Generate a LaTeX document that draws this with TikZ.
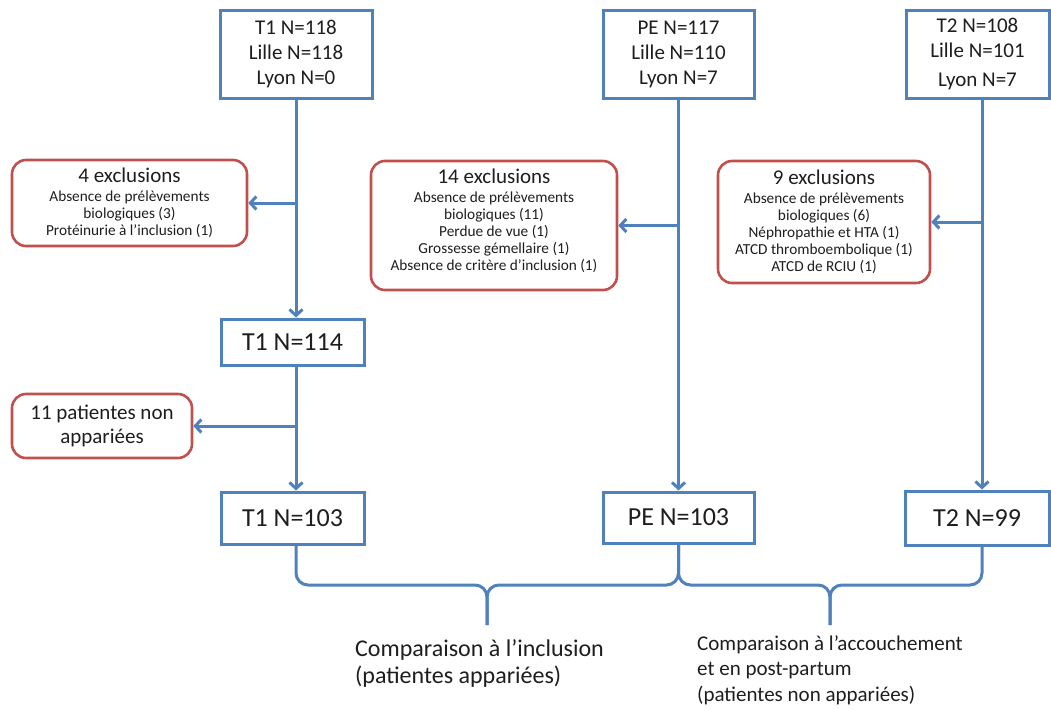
\documentclass[tikz,border=0pt]{standalone}
\usepackage{fontspec}
\setmainfont{Carlito}
\usetikzlibrary{arrows.meta}
\definecolor{boxblue}{HTML}{4F81BD}
\definecolor{exred}{HTML}{C0504D}
\definecolor{txt}{HTML}{1E1E1E}
\begin{document}
\begin{tikzpicture}[x=1pt,y=-1pt,
  bluebox/.style={draw=boxblue, line width=3pt, fill=white, inner sep=0pt, align=center, text=txt},
  redbox/.style={draw=exred, line width=2.6pt, rounded corners=14pt, fill=white, inner sep=0pt, align=center, text=txt, font=\fontsize{15.3}{17}\selectfont},
  conn/.style={draw=boxblue, line width=3pt},
  arr/.style={conn, -{Straight Barb[length=6pt,width=13pt]}},
  topfont/.style={font=\fontsize{21}{25}\selectfont},
  bigfont/.style={font=\fontsize{26}{32}\selectfont},
  lbl/.style={anchor=base west, inner sep=0pt, text=txt},
]
\useasboundingbox (0,0) rectangle (1051,709);

% top boxes
\node[bluebox, topfont, minimum width=152pt, minimum height=87pt] (t1top) at (296,54.5) {T1 N=118\\Lille N=118\\Lyon N=0};
\node[bluebox, topfont, minimum width=151pt, minimum height=87pt] (petop) at (678.5,54.5) {PE N=117\\Lille N=110\\Lyon N=7};
\node[bluebox, topfont, minimum width=143pt, minimum height=87pt] (t2top) at (977.5,54.5) {T2 N=108\\Lille N=101\\[4pt]Lyon N=7};

% exclusion boxes
\node[redbox, minimum width=235pt, minimum height=86pt] (ex1) at (129.5,203)
  {{\fontsize{21}{22}\selectfont 4 exclusions}\\[2pt]Absence de prélèvements\\biologiques (3)\\Protéinurie à l’inclusion (1)};
\node[redbox, minimum width=246pt, minimum height=129pt] (ex2) at (494,225.5)
  {{\fontsize{21}{22}\selectfont 14 exclusions}\\[2pt]Absence de prélèvements\\biologiques (11)\\Perdue de vue (1)\\Grossesse gémellaire (1)\\Absence de critère d’inclusion (1)\\[-5pt]};
\node[redbox, minimum width=212pt, minimum height=122pt] (ex3) at (824,222)
  {{\fontsize{21}{22}\selectfont 9 exclusions}\\[2pt]Absence de prélèvements\\biologiques (6)\\Néphropathie et HTA (1)\\ATCD thromboembolique (1)\\ATCD de RCIU (1)};
\node[redbox, font=\fontsize{21}{24}\selectfont, minimum width=180pt, minimum height=64pt] (ex4) at (102,426)
  {11 patientes non\\appariées};

% middle / bottom boxes
\node[bluebox, bigfont, minimum width=143pt, minimum height=46pt] (t1mid) at (292.5,342) {T1 N=114};
\node[bluebox, bigfont, minimum width=143pt, minimum height=52pt] (t1bot) at (292.5,518) {T1 N=103};
\node[bluebox, bigfont, minimum width=151pt, minimum height=51pt] (pebot) at (678.5,517.5) {PE N=103};
\node[bluebox, bigfont, minimum width=144pt, minimum height=54pt] (t2bot) at (977,518) {T2 N=99};

% connectors
\coordinate (t2x) at (982,0);
\draw[arr] (t1top.south) -- (t1top.south |- t1mid.north);
\draw[arr] (t1top.south |- ex1.east) -- (ex1.east);
\draw[arr] (t1top.south |- t1mid.south) -- (t1top.south |- t1bot.north);
\draw[arr] (t1top.south |- ex4.east) -- (ex4.east);
\draw[arr] (petop.south) -- (pebot.north);
\draw[arr] (petop.south |- ex2.east) -- (ex2.east);
\draw[arr] (t2top.south -| t2x) -- (t2bot.north -| t2x);
\draw[arr] (ex3.east -| t2x) -- (ex3.east);

% braces
\coordinate (tipL) at (487,625);
\coordinate (tipR) at (830,625);
\coordinate (hy) at (0,585);
\draw[conn, rounded corners=12pt] (t1bot.south -| t1top.south) |- (tipL |- hy) -- (tipL);
\draw[conn, rounded corners=12pt] (tipL) -- (tipL |- hy) -| (pebot.south);
\draw[conn, rounded corners=12pt] (pebot.south) |- (tipR |- hy) -- (tipR);
\draw[conn, rounded corners=12pt] (tipR) -- (tipR |- hy) -| (t2bot.south -| t2x);

% labels
\node[lbl, font=\fontsize{24}{27}\selectfont] (cmpL) at (355,656)
  {\begin{tabular}[t]{@{}l@{}}Comparaison à l’inclusion\\(patientes appariées)\end{tabular}};
\node[lbl, font=\fontsize{21}{25.5}\selectfont] (cmpR) at (697,650)
  {\begin{tabular}[t]{@{}l@{}}Comparaison à l’accouchement\\et en post-partum\\(patientes non appariées)\end{tabular}};
\end{tikzpicture}
\end{document}
